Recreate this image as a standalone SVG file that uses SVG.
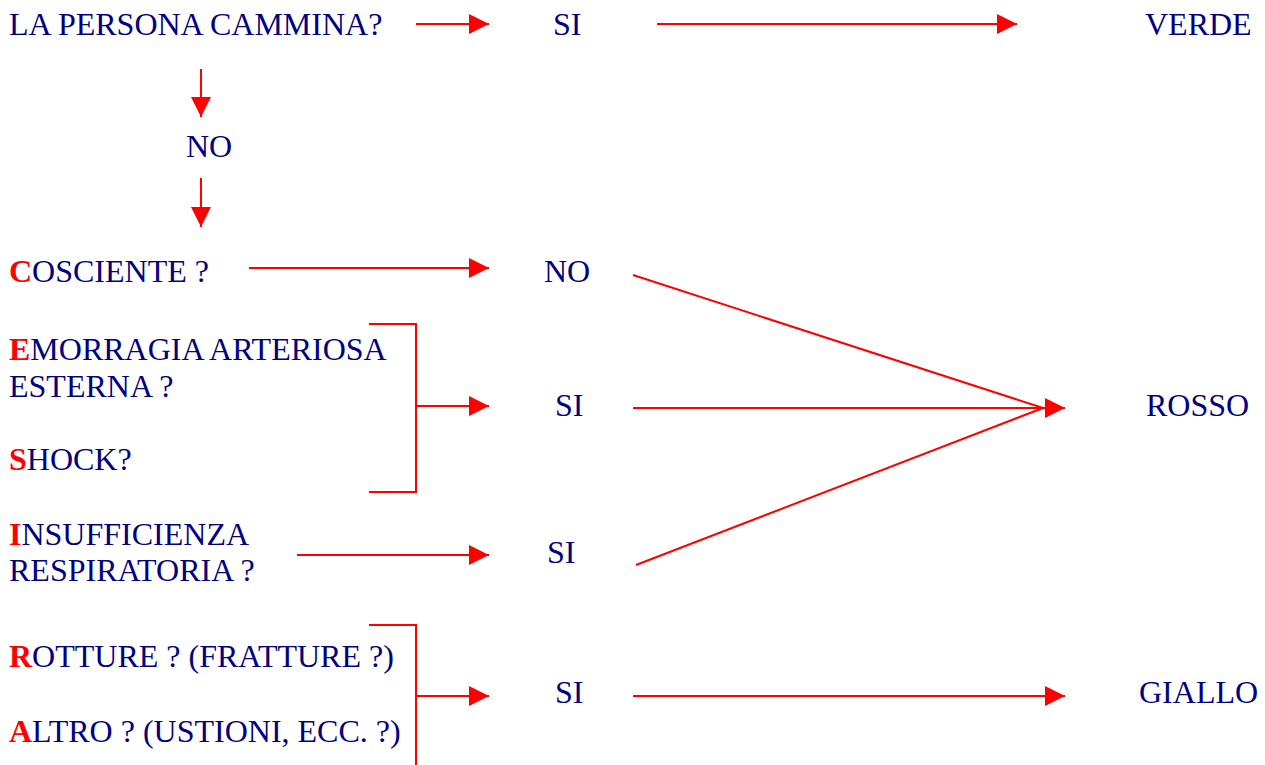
<svg xmlns="http://www.w3.org/2000/svg" width="1265" height="765" viewBox="0 0 1265 765">
<style>
text{font-family:"Liberation Serif","Times New Roman",serif;font-size:32px;fill:#000080}
.r{fill:#ff0000;font-weight:bold}
.c line,.c polyline{stroke:#ff0000;stroke-width:2;fill:none}
.a{marker-end:url(#ah)}
</style>
<defs>
<marker id="ah" markerUnits="userSpaceOnUse" markerWidth="20" markerHeight="20" refX="20" refY="10" orient="auto">
<path d="M0,0 L20,10 L0,20 Z" fill="#ff0000"/>
</marker>
</defs>
<rect width="1265" height="765" fill="#ffffff"/>
<g class="c" id="connectors">
<line class="a" x1="416" y1="24" x2="489" y2="24"/>
<line class="a" x1="657" y1="24" x2="1017" y2="24"/>
<line class="a" x1="201" y1="69" x2="201" y2="117"/>
<line class="a" x1="201" y1="178" x2="201" y2="227"/>
<line class="a" x1="249" y1="268" x2="489" y2="268"/>
<polyline points="369,324 416,324 416,492 369,492"/>
<line class="a" x1="416" y1="406" x2="489" y2="406"/>
<line class="a" x1="297" y1="555" x2="489" y2="555"/>
<polyline points="369,625 416,625 416,765"/>
<line class="a" x1="416" y1="696" x2="489" y2="696"/>
<line x1="633" y1="275" x2="1043" y2="408"/>
<line x1="636" y1="565" x2="1043" y2="408"/>
<line class="a" x1="633" y1="408" x2="1065" y2="408"/>
<line class="a" x1="633" y1="696" x2="1065" y2="696"/>
</g>
<g id="q-cammina"><text x="9" y="35">LA PERSONA CAMMINA?</text></g>
<g id="si-1"><text x="553" y="35">SI</text></g>
<g id="verde"><text x="1145" y="35">VERDE</text></g>
<g id="no-1"><text x="186" y="157">NO</text></g>
<g id="q-cosciente"><text x="9" y="282"><tspan class="r">C</tspan>OSCIENTE ?</text></g>
<g id="no-2"><text x="544" y="282">NO</text></g>
<g id="q-emorragia"><text x="9" y="360"><tspan class="r">E</tspan>MORRAGIA ARTERIOSA</text><text x="9" y="397">ESTERNA ?</text><text x="9" y="470"><tspan class="r">S</tspan>HOCK?</text></g>
<g id="si-2"><text x="555" y="416">SI</text></g>
<g id="rosso"><text x="1146" y="416">ROSSO</text></g>
<g id="q-insufficienza"><text x="9" y="545"><tspan class="r">I</tspan>NSUFFICIENZA</text><text x="9" y="581">RESPIRATORIA ?</text></g>
<g id="si-3"><text x="547" y="563">SI</text></g>
<g id="q-rotture"><text x="9" y="667"><tspan class="r">R</tspan>OTTURE ? (FRATTURE ?)</text><text x="9" y="742"><tspan class="r">A</tspan>LTRO ? (USTIONI, ECC. ?)</text></g>
<g id="si-4"><text x="555" y="703">SI</text></g>
<g id="giallo"><text x="1139" y="703">GIALLO</text></g>
</svg>
